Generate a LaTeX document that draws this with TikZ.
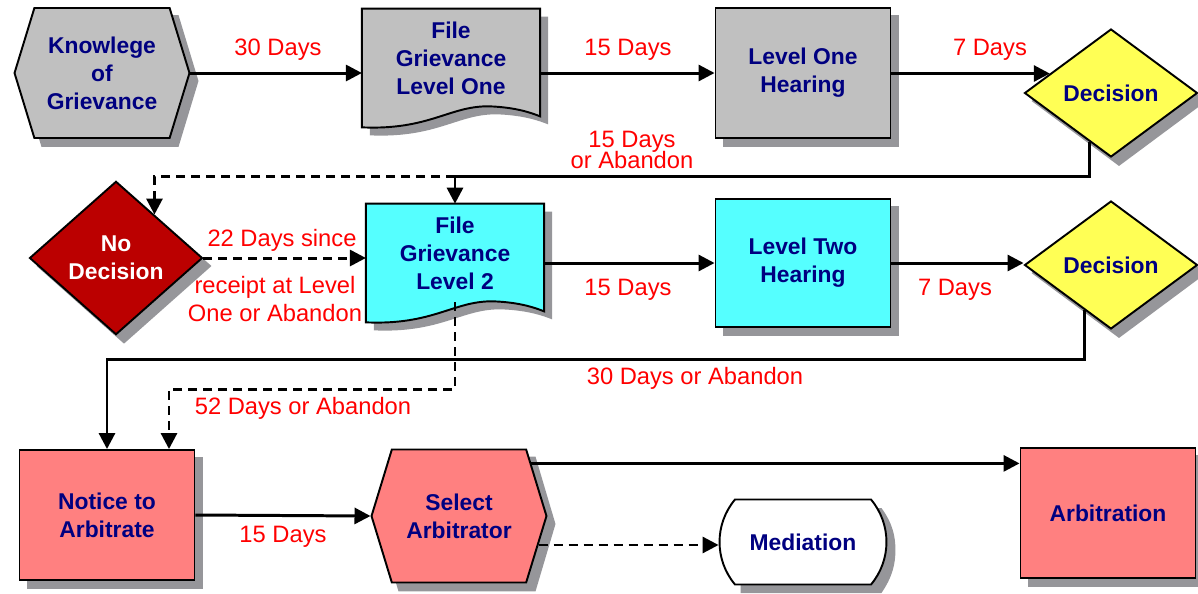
\documentclass[tikz,border=0pt]{standalone}
\usepackage{fontspec}
\setmainfont{Liberation Sans}
\usetikzlibrary{arrows.meta,shapes,positioning,calc,backgrounds}

\definecolor{boxgray}{HTML}{C0C0C0}
\definecolor{boxcyan}{HTML}{55FFFF}
\definecolor{boxyellow}{HTML}{FFFF55}
\definecolor{boxred}{HTML}{BB0000}
\definecolor{boxpink}{HTML}{FF8080}
\definecolor{textnavy}{HTML}{000080}
\definecolor{dropgray}{HTML}{96969A}

% document outline round a text node: node, dx, dy, options
\newcommand{\grievdoc}[4]{%
  \path[#4] ($(#1.north west)+(#2,#3)$) -- ($(#1.south west)+(#2,20+#3)$)
    .. controls ($(#1.south west)+(68+#2,23+#3)$) and ($(#1.south west)+(88+#2,-2+#3)$) .. ($(#1.south west)+(128+#2,-1+#3)$)
    .. controls ($(#1.south west)+(153+#2,#3)$) and ($(#1.south east)+(-10+#2,5+#3)$) .. ($(#1.south east)+(#2,9+#3)$)
    -- ($(#1.north east)+(#2,#3)$) -- cycle;}
% shadows, 8px down and right
\newcommand{\boxshadow}[1]{\fill[dropgray] ($(#1.north west)+(8,8)$) rectangle ($(#1.south east)+(8,8)$);}
\newcommand{\diamondshadow}[1]{\fill[dropgray] ($(#1.north)+(8,8)$) -- ($(#1.east)+(8,8)$)
  -- ($(#1.south)+(8,8)$) -- ($(#1.west)+(8,8)$) -- cycle;}
\newcommand{\hexshadow}[1]{\fill[dropgray] ($(#1.west)+(8,8)$) -- ($(#1.north -| #1.west)+(28,8)$)
  -- ($(#1.north -| #1.east)+(-12,8)$) -- ($(#1.east)+(8,8)$) -- ($(#1.south -| #1.east)+(-12,8)$)
  -- ($(#1.south -| #1.west)+(28,8)$) -- cycle;}
\newcommand{\medshadow}[1]{\fill[dropgray] ($(#1.east)+(-6,-34)$)
  .. controls ($(#1.east)+(5,-19)$) and ($(#1.east)+(8,-6)$) .. ($(#1.east)+(8,8)$)
  .. controls ($(#1.east)+(8,22)$) and ($(#1.east)+(5,35)$) .. ($(#1.east)+(-6,51)$)
  -- ($(#1.west)+(22,51)$) -- ($(#1.west)+(22,-34)$) -- cycle;}

\begin{document}
\begin{tikzpicture}[x=0.02cm, y=-0.02cm,
  every node/.style={align=center},
  box/.style={draw=black, line width=1.1pt, inner sep=2pt, text=textnavy,
    font=\fontsize{13}{16}\selectfont\bfseries},
  proc/.style={box, rectangle, minimum width=3.5cm, minimum height=2.6cm},
  hexa/.style={box, signal, signal to=east and west, signal pointer angle=146,
    minimum width=3.5cm, minimum height=2.6cm},
  decide/.style={box, diamond, minimum width=3.46cm, minimum height=2.56cm},
  docbox/.style={rectangle, inner sep=0pt, text=textnavy,
    font=\fontsize{13}{16}\selectfont\bfseries, minimum width=3.55cm, minimum height=1.96cm},
  days/.style={text=red, font=\fontsize{13.5}{16}\selectfont},
  flow/.style={line width=1.7pt, -{Triangle[length=0.32cm,width=0.32cm]}},
  maybe/.style={flow, dash pattern=on 0.18cm off 0.12cm}]
\useasboundingbox (0,0) rectangle (1198,593);

% top row
\node[hexa, fill=boxgray] (know) at (102,73) {Knowlege\\of\\Grievance};
\node[docbox] (fg1) at (451,58) {File\\Grievance\\Level One};
\node[proc, fill=boxgray] (hear1) at (803,73) {Level One\\Hearing};
\node[decide, fill=boxyellow] (dec1) at (1111,93) {Decision};

% middle row
\node[decide, fill=boxred, text=white, minimum height=2.6cm] (nodec) at (116,258) {No\\Decision};
\node[docbox] (fg2) at (455,253) {File\\Grievance\\Level 2};
\node[proc, fill=boxcyan, minimum height=2.56cm] (hear2) at (803,263) {Level Two\\Hearing};
\node[decide, fill=boxyellow] (dec2) at (1111,265) {Decision};

% bottom row
\node[proc, fill=boxpink] (notice) at (107,515) {Notice to\\Arbitrate};
\node[hexa, fill=boxpink, minimum height=2.66cm] (select) at (459,516) {Select\\Arbitrator};
\node[box, rounded rectangle, rounded rectangle arc length=80, fill=white,
  minimum width=3.48cm, minimum height=1.7cm] (med) at (803,542) {Mediation};
\node[proc, fill=boxpink] (arb) at (1108,513) {Arbitration};

\begin{scope}[on background layer]
\hexshadow{know}
\hexshadow{select}
\boxshadow{hear1}
\boxshadow{hear2}
\boxshadow{notice}
\boxshadow{arb}
\diamondshadow{dec1}
\diamondshadow{dec2}
\diamondshadow{nodec}
\medshadow{med}
\grievdoc{fg1}{8}{8}{fill=dropgray}
\grievdoc{fg2}{8}{8}{fill=dropgray}
\grievdoc{fg1}{0}{0}{draw, line width=1.1pt, fill=boxgray}
\grievdoc{fg2}{0}{0}{draw, line width=1.1pt, fill=boxcyan}
\end{scope}

% connectors
\coordinate (d1in) at ($(dec1.west)!0.3!(dec1.north)$);
\coordinate (d1out) at ($(dec1.south)!0.25!(dec1.west)$);
\coordinate (turn1) at ($(fg2.north)+(0,-27)$);
\coordinate (ndin) at ($(nodec.north)!0.44!(nodec.east)$);
\coordinate (d2out) at ($(dec2.south)!0.3!(dec2.west)$);

\draw[flow] (know.east) -- (know.east -| fg1.west);
\draw[flow] (hear1.west -| fg1.east) -- (hear1.west);
\draw[flow] (hear1.east |- d1in) -- (d1in);
\draw[maybe] (turn1) -| (ndin);
\draw[flow] (d1out) |- (turn1) -- (fg2.north);
\draw[maybe] (nodec.east) -- (nodec.east -| fg2.west);
\draw[flow] (hear2.west -| fg2.east) -- (hear2.west);
\draw[flow] (hear2.east) -- (hear2.east -| dec2.west);
\draw[flow] (d2out) |- ($(notice.north)+(0,-90)$) -- (notice.north);
\draw[maybe] (fg2.south) -- ++(0,87) -| ($(notice.north)+(62,0)$);
\draw[flow] (notice.east) -- (select.west);
\draw[flow] (select.36.5) -- (select.36.5 -| arb.west);
\draw[maybe] (select.-20) -- (select.-20 -| med.west);

% labels
\node[days] (l1) at (278,50) {30 Days};
\node[days] (l2) at (628,50) {15 Days};
\node[days] (l3) at (990,50) {7 Days};
\node[days] (l4) at (632,150) {15 Days\\[-4pt]or Abandon};
\node[days] (l5) at (282,240) {22 Days since};
\node[days] (l6) at (275,299) {receipt at Level\\One or Abandon};
\node[days] (l7) at (628,290) {15 Days};
\node[days] (l8) at (955,290) {7 Days};
\node[days] (l9) at (695,378) {30 Days or Abandon};
\node[days] (l10) at (303,408) {52 Days or Abandon};
\node[days] (l11) at (283,537) {15 Days};
\end{tikzpicture}
\end{document}
